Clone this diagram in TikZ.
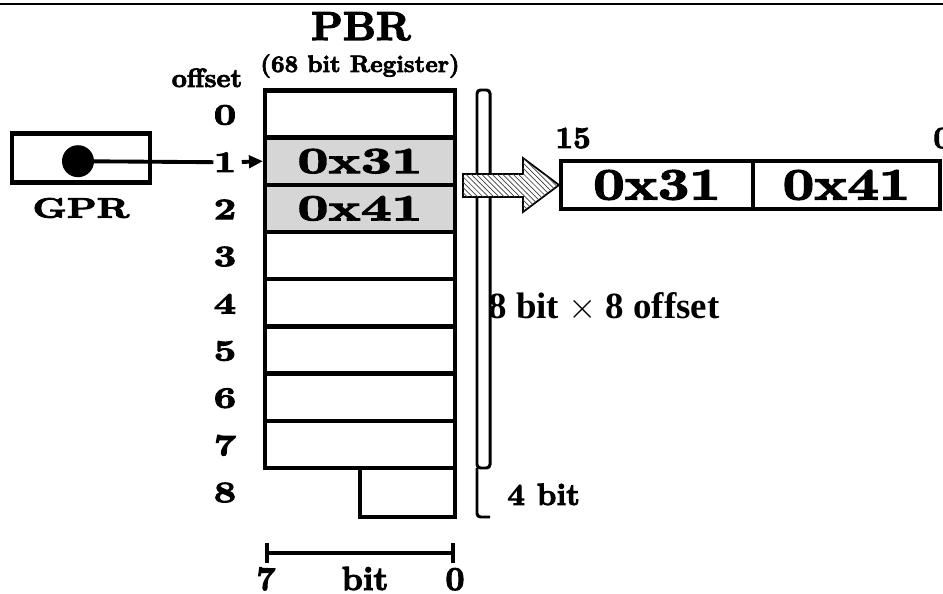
\documentclass[tikz,border=0pt]{standalone}
\usepackage{fontspec}
\usepackage{graphicx}
\newfontfamily\heavy{lmroman10-bold}[Extension=.otf, FakeBold=3]
\newfontfamily\timesfont{Liberation Serif}
\usetikzlibrary{arrows.meta,patterns,positioning,calc}

\newcommand{\hstretch}[2][1.3]{\scalebox{#1}[1]{#2}}
\newcommand{\heavysize}[1]{\heavy\fontsize{#1}{#1}\selectfont}

\tikzstyle{every node}=[inner sep=0pt]
\tikzstyle{lbl}=[font=\heavysize{17}]
\tikzstyle{frame}=[line width=2.3pt]
\tikzstyle{thin frame}=[line width=1.7pt]
\tikzstyle{ptr}=[line width=2.2pt]
\tikzstyle{cell}=[draw, frame, minimum width=3.8cm, minimum height=0.94cm, font=\heavysize{21}]
\tikzstyle{used cell}=[cell, fill=black!16]
\tikzstyle{wcell}=[draw, frame, minimum height=0.96cm, font=\heavysize{25.5}]

\begin{document}
\begin{tikzpicture}[x=0.02cm,y=-0.02cm]
\def\rowsep{47.2}
\useasboundingbox (0,0) rectangle (943,594);

\draw[line width=1.3pt] (0,4) -- (943,4);

	% PBR rows
    \foreach \r in {0,3,4,5,6,7}
        \node[cell] (R-\r) at (360, 114+\rowsep*\r) {};
    \node[used cell] (R-1) at (360, 114+\rowsep*1) {\hstretch[1.45]{0x31}};
    \node[used cell] (R-2) at (360, 114+\rowsep*2) {\hstretch[1.45]{0x41}};
    \node[cell, minimum width=1.9cm, minimum height=0.98cm] (R-8) at (407.5,492.5) {};

    \foreach \r in {0,...,8}
        \node[lbl] (L-\r) at (225, 115+\rowsep*\r) {\hstretch{\r}};

    \node[font=\heavysize{23}, anchor=base] (title) at (361,40) {PBR};
    \node[font=\heavysize{13.5}, anchor=base] (subtitle) at (360,72) {(68 bit Register)};
    \node[font=\heavysize{15}, anchor=base] (offs) at (207,87) {offset};

	% GPR -> offset 1
    \node[draw, frame, minimum width=2.76cm, minimum height=0.98cm] (gpr) at (81,158) {};
    \node[circle, fill, minimum size=0.64cm] (dot) at (78,161.2) {};
    \node[lbl, font=\heavysize{16}] (gprname) at (81,208) {\hstretch[1.35]{GPR}};
    \draw[ptr] (dot.center) -- (L-1.west);
    \draw[ptr, -{Triangle[length=8pt,width=7pt]}, shorten <=3pt] (L-1.east) -- (R-1.west);

	% side brackets
    \node[font=\timesfont\bfseries\fontsize{21}{21}\selectfont, anchor=base west] (size) at (488,319) {8 bit $\times$ 8 offset};
    \draw[thin frame, rounded corners=2pt] (477,90) rectangle (490,468);
    \draw[thin frame, rounded corners=2pt] (477,468) -- (477,517) -- (490,517);
    \node[font=\heavysize{17.5}, anchor=base west] (small) at (507,505) {4 bit};

	% 16 bit word
    \node[wcell, minimum width=3.84cm] (W-hi) at (657,185) {\hstretch[1.22]{0x31}};
    \node[wcell, minimum width=3.74cm] (W-lo) at (846.5,185) {\hstretch[1.22]{0x41}};
    \node[font=\heavysize{17.5}, anchor=base west] (msb) at (555,148) {15};
    \node[font=\heavysize{17.5}, anchor=base west] (lsb) at (933,148) {0};

    \draw[line width=1pt, fill=white, postaction={pattern=north west lines, pattern color=black!75}]
        (463,174) -- (523,174) -- (523,158) -- (W-hi.west) -- (523,212) -- (523,197) -- (463,197) -- cycle;

	% bit scale
    \coordinate (b7) at (265,553);
    \coordinate (b0) at (455,553);
    \draw[frame, {Bar[width=11pt]}-{Bar[width=11pt]}] (b7) -- (b0);
    \node[font=\heavysize{19}, anchor=base] (n7) at (266,590) {7};
    \node[font=\heavysize{19}, anchor=base] (nbit) at (365,590) {bit};
    \node[font=\heavysize{19}, anchor=base] (n0) at (455,590) {0};

\end{tikzpicture}
\end{document}
